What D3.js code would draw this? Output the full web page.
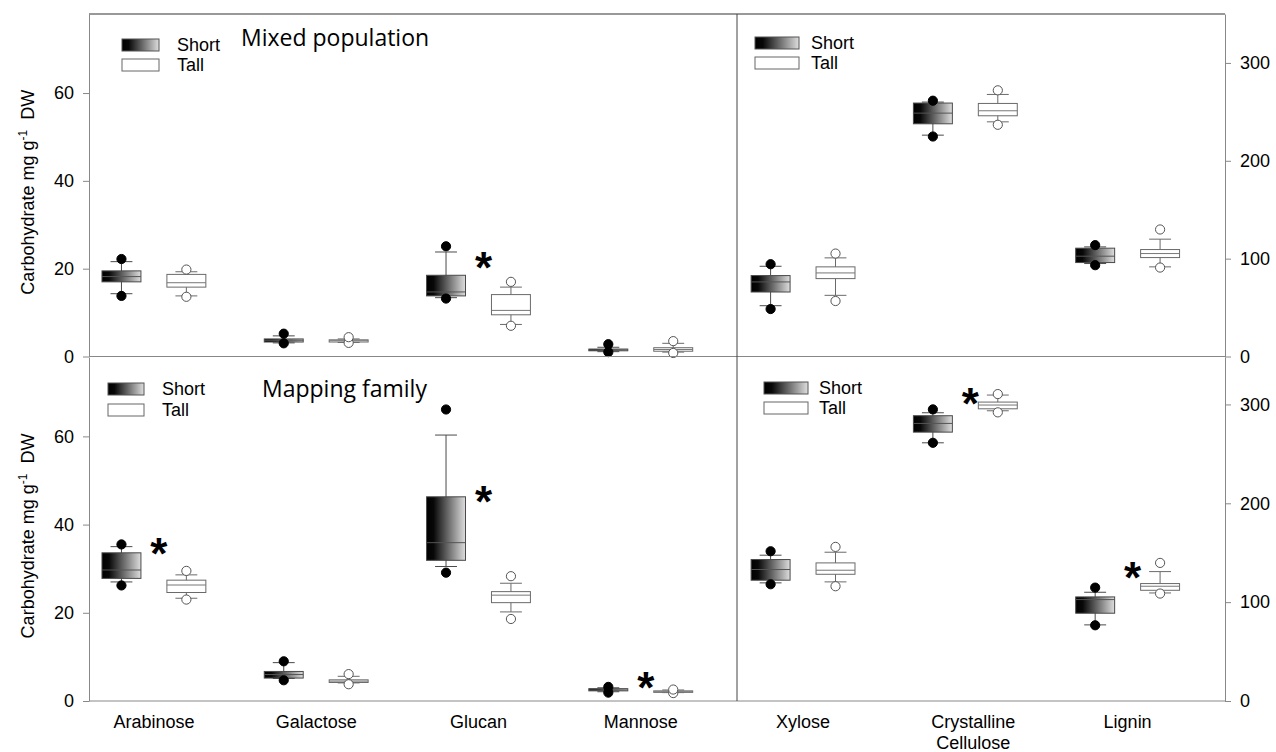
<!DOCTYPE html>
<html>
<head>
<meta charset="utf-8">
<script src="https://cdn.jsdelivr.net/npm/d3@7"></script>
<style>
  body { margin: 0; background: #fff; }
  text { font-family: "Liberation Sans", Arial, sans-serif; }
</style>
</head>
<body>
<div id="chart"></div>
<script>
// categories and tick labels
var sugars = ["Arabinose", "Galactose", "Glucan", "Mannose"];
var wallParts = ["Xylose", "Crystalline Cellulose", "Lignin"];
var leftTicks = [0, 20, 40, 60];
var rightTicks = [0, 100, 200, 300];

// box stats per category: [p5, whisker low, q1, median, q3, whisker high, p95]
var mixedShortSugars = [
    [13.8, 14.3, 17.0, 18.2, 19.5, 21.6, 22.2],
    [3.0, 3.1, 3.3, 3.7, 4.0, 4.7, 5.2],
    [13.2, 13.4, 13.8, 14.7, 18.5, 23.8, 25.1],
    [1.0, 1.1, 1.3, 1.5, 1.7, 2.1, 2.8]
];
var mixedTallSugars = [
    [13.6, 13.8, 15.8, 16.8, 18.7, 19.3, 19.8],
    [3.1, 3.2, 3.3, 3.6, 3.8, 4.0, 4.4],
    [7.0, 7.3, 9.5, 10.5, 14.1, 15.8, 17.0],
    [0.8, 1.0, 1.2, 1.6, 2.0, 3.0, 3.5]
];
var mixedShortWall = [
    [48.5, 51.9, 65.9, 76.2, 82.7, 92.2, 94.3],
    [224.8, 226.2, 237.8, 248.7, 259.0, 260.0, 261.4],
    [93.3, 95.0, 96.0, 102.5, 110.7, 112.0, 113.8]
];
var mixedTallWall = [
    [56.7, 62.5, 79.6, 85.4, 91.6, 100.8, 105.2],
    [236.8, 239.8, 246.0, 251.1, 258.6, 267.8, 272.0],
    [90.9, 91.6, 101.1, 105.2, 109.3, 119.9, 129.8]
];
var mappingShortSugars = [
    [26.2, 27.0, 27.8, 29.7, 33.6, 35.0, 35.5],
    [4.7, 5.1, 5.2, 6.0, 6.7, 8.7, 9.0],
    [29.1, 30.5, 31.9, 35.9, 46.3, 60.3, 66.1],
    [1.9, 2.1, 2.3, 2.5, 2.8, 3.0, 3.2]
];
var mappingTallSugars = [
    [23.0, 23.3, 24.6, 26.3, 27.4, 28.6, 29.5],
    [3.8, 4.1, 4.2, 4.5, 4.8, 5.6, 6.1],
    [18.6, 20.2, 22.3, 24.0, 24.8, 26.7, 28.3],
    [1.8, 1.9, 2.0, 2.1, 2.3, 2.5, 2.6]
];
var mappingShortWall = [
    [118.1, 119.5, 122.2, 133.0, 143.1, 147.5, 151.5],
    [261.2, 261.2, 272.0, 280.8, 288.6, 291.6, 295.0],
    [76.6, 77.0, 88.8, 102.6, 105.3, 110.0, 114.7]
];
var mappingTallWall = [
    [116.1, 120.5, 128.2, 132.3, 139.7, 150.5, 155.9],
    [292.0, 293.6, 295.6, 299.4, 302.4, 309.5, 310.5],
    [108.7, 109.3, 112.0, 116.1, 118.8, 130.9, 139.7]
];

// significance marks
var mixedStarCats = ["Glucan"];
var mixedStarValues = [22.4];
var mappingStarCats = ["Arabinose", "Glucan", "Mannose", "Crystalline Cellulose", "Lignin"];
var mappingStarValues = [35.6, 47.5, 5.3, 310.6, 135];

var width = 1276, height = 752;
var plot = { left: 89, right: 1225, divider: 737, top: 14, middle: 356.5, bottom: 701 };
var allCats = sugars.concat(wallParts);

// one x scale shared by all panels, categories at 1..7
var x = d3.scaleLinear().domain([0.6, 7.6]).range([plot.left, plot.right]);
var catX = function(name) { return x(allCats.indexOf(name) + 1); };
var unit = x(1) - x(0);
var boxOffset = 0.2 * unit, boxWidth = 0.24 * unit, capWidth = 0.135 * unit;

var yLeftTop = d3.scaleLinear().domain([0, 78]).range([plot.middle, plot.top]);
var yRightTop = d3.scaleLinear().domain([0, 350]).range([plot.middle, plot.top]);
var yLeftBot = d3.scaleLinear().domain([0, 78]).range([plot.bottom, plot.middle + 0.5]);
var yRightBot = d3.scaleLinear().domain([0, 348]).range([plot.bottom, plot.middle + 0.5]);

var svg = d3.select("#chart").append("svg")
    .attr("width", width)
    .attr("height", height)
    .style("background", "#fff");

// gradient used for the "Short" boxes
var grad = svg.append("defs").append("linearGradient")
    .attr("id", "shortFill")
    .attr("x1", "0%").attr("x2", "100%")
    .attr("y1", "0%").attr("y2", "0%");
grad.append("stop").attr("offset", "0%").attr("stop-color", "#000");
grad.append("stop").attr("offset", "18%").attr("stop-color", "#080808");
grad.append("stop").attr("offset", "100%").attr("stop-color", "#dedede");

var panels = [
    { cats: sugars, y: yLeftTop, short: mixedShortSugars, tall: mixedTallSugars,
      legend: { x: 122, y: 39, w: 37, h: 12, gap: 20, tx: 177 },
      title: { text: "Mixed population", x: 241, y: 46 } },
    { cats: wallParts, y: yRightTop, short: mixedShortWall, tall: mixedTallWall,
      legend: { x: 755, y: 37, w: 44, h: 12, gap: 20, tx: 811 } },
    { cats: sugars, y: yLeftBot, short: mappingShortSugars, tall: mappingTallSugars,
      legend: { x: 108, y: 383, w: 36, h: 12, gap: 21, tx: 162 },
      title: { text: "Mapping family", x: 262, y: 397 } },
    { cats: wallParts, y: yRightBot, short: mappingShortWall, tall: mappingTallWall,
      legend: { x: 764, y: 382, w: 44, h: 12, gap: 20, tx: 819 } }
];

function drawBox(g, cx, s, y, isShort) {
    var stroke = isShort ? "#4a4a4a" : "#6a6a6a";
    // whiskers
    g.append("line")
        .attr("x1", cx).attr("x2", cx)
        .attr("y1", y(s[1])).attr("y2", y(s[5]))
        .attr("stroke", stroke).attr("stroke-width", 1);
    [s[1], s[5]].forEach(function(v) {
        g.append("line")
            .attr("x1", cx - capWidth / 2).attr("x2", cx + capWidth / 2)
            .attr("y1", y(v)).attr("y2", y(v))
            .attr("stroke", stroke).attr("stroke-width", 1);
    });
    // box
    g.append("rect")
        .attr("x", cx - boxWidth / 2)
        .attr("y", y(s[4]))
        .attr("width", boxWidth)
        .attr("height", Math.max(1.5, y(s[2]) - y(s[4])))
        .attr("fill", isShort ? "url(#shortFill)" : "#fff")
        .attr("stroke", stroke).attr("stroke-width", 1);
    // median
    g.append("line")
        .attr("x1", cx - boxWidth / 2).attr("x2", cx + boxWidth / 2)
        .attr("y1", y(s[3])).attr("y2", y(s[3]))
        .attr("stroke", isShort ? "#555" : "#777").attr("stroke-width", 1);
    // 5th / 95th percentile points
    [s[0], s[6]].forEach(function(v) {
        g.append("circle")
            .attr("cx", cx).attr("cy", y(v)).attr("r", 4.6)
            .attr("fill", isShort ? "#000" : "#fff")
            .attr("stroke", isShort ? "#000" : "#555")
            .attr("stroke-width", 1);
    });
}

panels.forEach(function(p) {
    var g = svg.append("g");
    p.cats.forEach(function(c, i) {
        drawBox(g, catX(c) - boxOffset, p.short[i], p.y, true);
        drawBox(g, catX(c) + boxOffset, p.tall[i], p.y, false);
    });

    // legend
    var L = p.legend;
    g.append("rect")
        .attr("x", L.x).attr("y", L.y).attr("width", L.w).attr("height", L.h)
        .attr("fill", "url(#shortFill)").attr("stroke", "#555");
    g.append("rect")
        .attr("x", L.x).attr("y", L.y + L.gap).attr("width", L.w).attr("height", L.h)
        .attr("fill", "#fff").attr("stroke", "#666");
    g.append("text").attr("x", L.tx).attr("y", L.y + L.h).attr("font-size", 18).text("Short");
    g.append("text").attr("x", L.tx).attr("y", L.y + L.h + L.gap).attr("font-size", 18).text("Tall");

    if (p.title) {
        g.append("text")
            .attr("x", p.title.x).attr("y", p.title.y)
            .style("font-family", "'Open Sans', 'Noto Sans', sans-serif")
            .attr("font-size", 23)
            .text(p.title.text);
    }
});

// asterisks
function drawStars(cats, values, leftY, rightY) {
    svg.append("g").selectAll("text")
        .data(cats)
        .join("text")
        .attr("x", function(d) { return catX(d) + 5; })
        .attr("y", function(d, i) {
            var y = sugars.indexOf(d) >= 0 ? leftY : rightY;
            return y(values[i]) + 25;
        })
        .attr("text-anchor", "middle")
        .attr("font-size", 44)
        .attr("font-weight", "bold")
        .text("*");
}
drawStars(mixedStarCats, mixedStarValues, yLeftTop, yRightTop);
drawStars(mappingStarCats, mappingStarValues, yLeftBot, yRightBot);

// frame
var frame = svg.append("g").attr("fill", "none");
frame.append("line")
    .attr("x1", plot.left).attr("x2", plot.right)
    .attr("y1", plot.top).attr("y2", plot.top)
    .attr("stroke", "#333");
[plot.middle, plot.bottom].forEach(function(yy) {
    frame.append("line")
        .attr("x1", plot.left).attr("x2", plot.right)
        .attr("y1", yy).attr("y2", yy)
        .attr("stroke", "#888");
});
frame.append("line")
    .attr("x1", plot.divider).attr("x2", plot.divider)
    .attr("y1", plot.top).attr("y2", plot.bottom)
    .attr("stroke", "#444");

// axes
function styleAxis(sel) {
    sel.selectAll("path, line").attr("stroke", "#888");
    sel.selectAll("text").attr("font-size", 18).attr("fill", "#000")
        .style("font-family", "'Liberation Sans', Arial, sans-serif");
}
[yLeftTop, yLeftBot].forEach(function(y) {
    svg.append("g")
        .attr("transform", "translate(" + plot.left + ",0)")
        .call(d3.axisLeft(y).tickValues(leftTicks).tickSize(6).tickSizeOuter(0).tickPadding(9))
        .call(styleAxis);
});
[yRightTop, yRightBot].forEach(function(y) {
    svg.append("g")
        .attr("transform", "translate(" + plot.right + ",0)")
        .call(d3.axisRight(y).tickValues(rightTicks).tickSize(6).tickSizeOuter(0).tickPadding(9))
        .call(styleAxis);
});

// category labels
svg.append("g").selectAll("text")
    .data(allCats)
    .join("text")
    .attr("x", function(d) { return catX(d); })
    .attr("y", 728)
    .attr("text-anchor", "middle")
    .attr("font-size", 18)
    .each(function(d) {
        var words = d.split(" ");
        var t = d3.select(this);
        words.forEach(function(w, i) {
            t.append("tspan")
                .attr("x", catX(d) + (words.length > 1 ? 8 : 0))
                .attr("dy", i ? 21 : 0)
                .text(w);
        });
    });

// y axis titles
[yLeftTop, yLeftBot].forEach(function(y) {
    var cy = (y.range()[0] + y.range()[1]) / 2 + 7;
    var t = svg.append("text")
        .attr("transform", "translate(34," + cy + ") rotate(-90)")
        .attr("text-anchor", "middle")
        .attr("font-size", 18);
    t.append("tspan").text("Carbohydrate mg g");
    t.append("tspan").attr("dy", -7).attr("font-size", 12).text("-1");
    t.append("tspan").attr("dy", 7).text("\u00a0 DW");
});
</script>
</body>
</html>
